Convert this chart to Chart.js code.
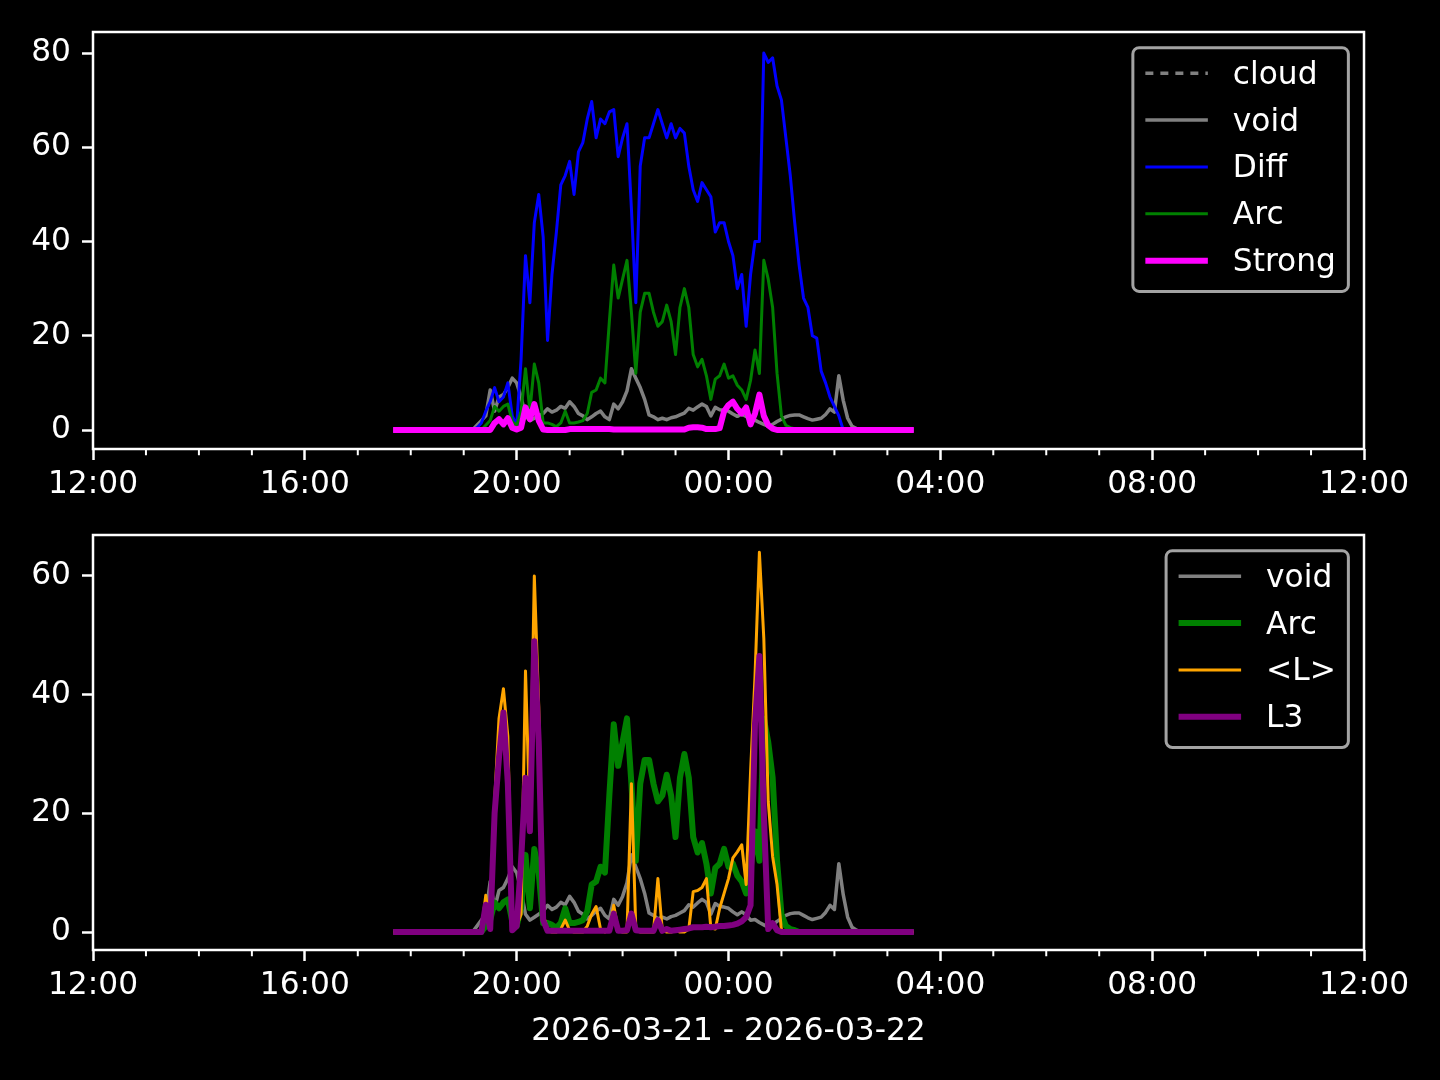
<!DOCTYPE html>
<html>
<head>
<meta charset="utf-8">
<script src="https://cdn.jsdelivr.net/npm/chart.js@4.4.1/dist/chart.umd.min.js"></script>
<style>
  html, body { margin: 0; padding: 0; background: #000; }
  #wrap { position: relative; width: 1440px; height: 1080px; }
  canvas { position: absolute; left: 0; }
  #top { top: 0; }
  #bottom { top: 520px; }
</style>
</head>
<body>
<div id="wrap">
  <canvas id="top" width="1440" height="520"></canvas>
  <canvas id="bottom" width="1440" height="560"></canvas>
</div>
<script>
/* two stacked panels, 5-minute samples 17:40 -> 03:30 */

const times = [
  "17:40","17:45","17:50","17:55","18:00","18:05","18:10","18:15","18:20","18:25",
  "18:30","18:35","18:40","18:45","18:50","18:55","19:00","19:05","19:10","19:15",
  "19:20","19:25","19:30","19:35","19:40","19:45","19:50","19:55","20:00","20:05",
  "20:10","20:15","20:20","20:25","20:30","20:35","20:40","20:45","20:50","20:55",
  "21:00","21:05","21:10","21:15","21:20","21:25","21:30","21:35","21:40","21:45",
  "21:50","21:55","22:00","22:05","22:10","22:15","22:20","22:25","22:30","22:35",
  "22:40","22:45","22:50","22:55","23:00","23:05","23:10","23:15","23:20","23:25",
  "23:30","23:35","23:40","23:45","23:50","23:55","00:00","00:05","00:10","00:15",
  "00:20","00:25","00:30","00:35","00:40","00:45","00:50","00:55","01:00","01:05",
  "01:10","01:15","01:20","01:25","01:30","01:35","01:40","01:45","01:50","01:55",
  "02:00","02:05","02:10","02:15","02:20","02:25","02:30","02:35","02:40","02:45",
  "02:50","02:55","03:00","03:05","03:10","03:15","03:20","03:25","03:30",
];

const cloud = []; // no samples in this window (legend only)

const voidVals = [
  0,0,0,0,0,0,0,0,0,0,
  0,0,0,0,0,0,0,0,0,1,
  2,3,8.5,4,7,7.5,9,11,10,7,
  3,2,2.5,3,3.5,4.5,3.8,4.2,5,4.6,
  6,5,3.5,3,2.2,2.8,3.5,4,2.8,2.2,
  5.5,4.5,6,8.3,13,11,9,6.5,3.2,2.8,
  2.2,2.5,2.2,2.6,2.8,3.2,3.6,4.6,4.2,4.9,
  5.5,5,3,4.8,4.3,4.2,4,3.4,2.9,3.4,
  2.9,2,2.1,1.6,1.2,0.8,1.2,1.8,2.3,2.8,
  3.1,3.2,3.2,2.8,2.4,2.1,2.3,2.5,3.3,4.5,
  3.8,11.5,6.3,2.5,0.8,0.3,0,0,0,0,
  0,0,0,0,0,0,0,0,0,
];

const diff = [
  0,0,0,0,0,0,0,0,0,0,
  0,0,0,0,0,0,0,0,0,0.5,
  1.5,4,6,9,6,7,10,3,1,15,
  37,27,44,50,41,19,33,42,52,54,
  57,50,59,61,66,69.7,62,66,65,67.5,
  68,58,62,65,47,27,56,62,62,65,
  68,65,62,65,62,64,63,56,51,48.5,
  52.5,51,49.5,42,44,44,40,37,30,33,
  22,33,40,40,80,78,79,73,70,62,
  54,44,35,28,26,20,19.5,12.5,10,7,
  5,3,0,0,0,0,0,0,0,0,
  0,0,0,0,0,0,0,0,0,
];

const arc = [
  0,0,0,0,0,0,0,0,0,0,
  0,0,0,0,0,0,0,0,0,0,
  0,1,2,5,4,5,5.5,1.8,1,4,
  13,4,14,10,1.5,1.5,1.2,0.7,1.5,4,
  1.5,1.5,1.7,2,3.5,8,8.5,11,10,23,
  35,28,32,36,25,12,25,29,29,25,
  22,23,26.5,23,16,26,30,26,16,13.4,
  15,11.5,6.5,10.8,11.5,14,11,11.5,9.5,8.5,
  6.5,10.5,17,12,36,32,26,12,3,1,
  0.5,0.3,0,0,0,0,0,0,0,0,
  0,0,0,0,0,0,0,0,0,0,
  0,0,0,0,0,0,0,0,0,
];

const strong = [
  0,0,0,0,0,0,0,0,0,0,
  0,0,0,0,0,0,0,0,0,0,
  0,0,0,1.5,2.3,1.2,2.5,0.5,0.1,0.5,
  4.8,2.3,5.5,2,0.1,0,0,0,0,0,
  0.2,0.2,0.2,0.2,0.2,0.2,0.2,0.2,0.2,0.2,
  0.1,0.1,0.1,0.1,0.1,0.1,0.1,0.1,0.1,0.1,
  0.1,0.1,0.1,0.1,0.1,0.1,0.1,0.5,0.6,0.6,
  0.5,0.2,0.2,0.2,0.4,4,5.3,6,4.5,3.5,
  4.8,1.2,3.5,7.5,3,1,0.3,0,0,0,
  0,0,0,0,0,0,0,0,0,0,
  0,0,0,0,0,0,0,0,0,0,
  0,0,0,0,0,0,0,0,0,
];

const lMean = [
  0,0,0,0,0,0,0,0,0,0,
  0,0,0,0,0,0,0,0,0,0,
  0,6.2,0.5,22,36,41,33,0.5,1,3,
  44,19,60,38,3,0.3,0,0,0.5,2,
  0.3,0,0,0,1,3,4.3,0.5,0,0.5,
  4.5,0.3,0,0,25,0.5,0,0,0,0,
  9,0.3,0,0,0.3,0,0,0.5,6.8,7,
  7.5,9,0.7,0.5,4,6.5,9,12.5,13.5,14.7,
  8,27,43,64,49.5,22,12.7,8,0.3,0,
  0,0,0,0,0,0,0,0,0,0,
  0,0,0,0,0,0,0,0,0,0,
  0,0,0,0,0,0,0,0,0,
];

const l3 = [
  0,0,0,0,0,0,0,0,0,0,
  0,0,0,0,0,0,0,0,0,0,
  0,4.6,0.5,20,29.5,37,25,0.3,1,12,
  26,17,49,32,2,0.2,0.2,0.2,0.2,0.2,
  0.2,0.2,0.2,0.2,0.2,0.2,0.2,0.2,0.2,0.2,
  3.1,0.2,0.2,0.3,3.1,0.3,0.2,0.2,0.2,0.2,
  2,0.2,0.5,0.2,0.3,0.4,0.5,0.6,0.8,0.8,
  0.8,0.9,0.8,0.9,1,1,1.1,1.2,1.4,1.8,
  2.5,4.5,35,46.5,20,0.5,1.5,0.3,0,0,
  0,0,0,0,0,0,0,0,0,0,
  0,0,0,0,0,0,0,0,0,0,
  0,0,0,0,0,0,0,0,0,
];

// x axis in hours after 12:00 on 2026-03-21
const xTicks = [0, 4, 8, 12, 16, 20, 24];
const xTickLabels = ["12:00", "16:00", "20:00", "00:00", "04:00", "08:00", "12:00"];
const topYTicks = [0, 20, 40, 60, 80];
const bottomYTicks = [0, 20, 40, 60];
const xLabel = "2026-03-21 - 2026-03-22";

const FS = 31.25; // 10pt at 225 dpi
const FONT = "DejaVu Sans";
Chart.defaults.font.family = FONT;
Chart.defaults.color = "#fff";

const hours = times.map((t) => {
  const [h, m] = t.split(":").map(Number);
  return ((h + 12) % 24) + m / 60;
});
const pts = (vals) => vals.map((v, i) => ({ x: hours[i], y: v }));

function line(label, vals, color, width, dash) {
  return {
    label,
    data: pts(vals),
    borderColor: color,
    backgroundColor: color,
    borderWidth: width,
    borderDash: dash || [],
    pointRadius: 0,
    fill: false,
    tension: 0,
    borderJoinStyle: "round",
  };
}

// later series drawn on top, like matplotlib
function stackOrder(sets) {
  sets.forEach((d, i) => (d.order = sets.length - 1 - i));
  return sets;
}

/* ---------------- spines, minor ticks, legend ---------------- */
function drawLegend(chart) {
  const { ctx, chartArea: a } = chart;
  const sets = chart.data.datasets;
  ctx.font = FS + "px '" + FONT + "'";
  const textW = Math.max(...sets.map((d) => ctx.measureText(d.label).width));
  const pad = 0.4 * FS, handle = 2 * FS, gap = 0.8 * FS, rowH = 1.5 * FS;
  const w = pad * 2 + handle + gap + textW;
  const h = pad * 2 + sets.length * FS + (sets.length - 1) * 0.5 * FS;
  const right = a.right - 0.5 * FS, top = a.top + 0.5 * FS, left = right - w;

  ctx.beginPath();
  ctx.roundRect(left, top, w, h, 0.2 * FS);
  ctx.fillStyle = "rgba(0,0,0,0.8)";
  ctx.fill();
  ctx.lineWidth = 3;
  ctx.strokeStyle = "rgba(204,204,204,0.8)";
  ctx.stroke();

  sets.forEach((d, i) => {
    const ly = top + 25.6 + i * rowH;
    ctx.beginPath();
    ctx.setLineDash(d.borderDash || []);
    ctx.lineWidth = d.borderWidth;
    ctx.strokeStyle = d.borderColor;
    ctx.lineCap = "butt";
    ctx.moveTo(left + pad, ly);
    ctx.lineTo(left + pad + handle, ly);
    ctx.stroke();
    ctx.setLineDash([]);
    ctx.fillStyle = "#fff";
    ctx.textAlign = "left";
    ctx.textBaseline = "alphabetic";
    ctx.fillText(d.label, left + pad + handle + gap, top + 36 + i * rowH);
  });
}

const frame = {
  id: "frame",
  afterDraw(chart) {
    const { ctx, chartArea: a } = chart;
    const x = chart.scales.x;
    ctx.save();
    ctx.strokeStyle = "#fff";
    ctx.lineWidth = 2;
    for (let hr = 0; hr <= 24; hr++) {
      if (hr % 4 === 0) continue;
      const px = x.getPixelForValue(hr);
      ctx.beginPath();
      ctx.moveTo(px, a.bottom);
      ctx.lineTo(px, a.bottom + 6.25);
      ctx.stroke();
    }
    ctx.lineWidth = 2.5;
    ctx.strokeRect(a.left, a.top, a.right - a.left, a.bottom - a.top);
    drawLegend(chart);
    ctx.restore();
  },
};

function options(yMin, yMax, yTicks, pad, xHeight, withTitle) {
  return {
    responsive: false,
    animation: false,
    devicePixelRatio: 1,
    parsing: false,
    layout: { padding: pad },
    plugins: { legend: { display: false }, tooltip: { enabled: false } },
    scales: {
      x: {
        type: "linear",
        min: 0,
        max: 24,
        afterBuildTicks: (s) => { s.ticks = xTicks.map((v) => ({ value: v })); },
        afterFit: (s) => { s.height = xHeight; },
        ticks: {
          callback: (v, i) => xTickLabels[i],
          color: "#fff",
          font: { size: FS },
          padding: 6,
          maxRotation: 0,
          autoSkip: false,
        },
        grid: { drawOnChartArea: false, tickLength: 11, tickWidth: 2.5, tickColor: "#fff" },
        border: { display: false },
        title: {
          display: withTitle,
          text: xLabel,
          color: "#fff",
          font: { size: FS },
          padding: { top: 0, bottom: 29 },
        },
      },
      y: {
        min: yMin,
        max: yMax,
        afterBuildTicks: (s) => { s.ticks = yTicks.map((v) => ({ value: v })); },
        afterFit: (s) => { s.width = 93; s.paddingTop = 0; s.paddingBottom = 0; },
        ticks: { color: "#fff", font: { size: FS }, padding: 11 },
        grid: { drawOnChartArea: false, tickLength: 11, tickWidth: 2.5, tickColor: "#fff" },
        border: { display: false },
      },
    },
  };
}

new Chart(document.getElementById("top"), {
  type: "line",
  data: {
    datasets: stackOrder([
      line("cloud", cloud, "#808080", 3.7, [8, 7]),
      line("void", voidVals, "#808080", 3.5),
      line("Diff", diff, "#0000ff", 3),
      line("Arc", arc, "#008000", 3),
      line("Strong", strong, "#ff00ff", 6),
    ]),
  },
  options: options(-4.03, 84.46, topYTicks, { left: 0, top: 32, right: 76, bottom: 0 }, 71, false),
  plugins: [frame],
});

new Chart(document.getElementById("bottom"), {
  type: "line",
  data: {
    datasets: stackOrder([
      line("void", voidVals, "#808080", 3.5),
      line("Arc", arc, "#008000", 6),
      line("<L>", lMean, "#ffa500", 3),
      line("L3", l3, "#800080", 6),
    ]),
  },
  options: options(-3.03, 66.9, bottomYTicks, { left: 0, top: 15, right: 76, bottom: 0 }, 130, true),
  plugins: [frame],
});
</script>
</body>
</html>
